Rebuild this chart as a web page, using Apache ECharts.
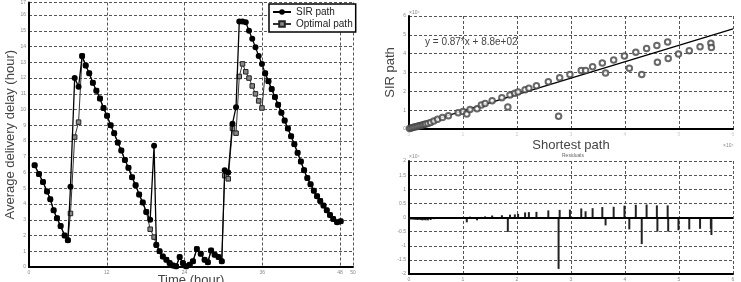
<!DOCTYPE html>
<html><head><meta charset="utf-8">
<script src="https://cdn.jsdelivr.net/npm/echarts/dist/echarts.min.js"></script>
<style>html,body{margin:0;padding:0;background:#fff}#c{width:741px;height:282px}</style>
</head><body><div id="c"></div>
<script>
// ---- Left chart: average delivery delay over time ----
const times = [0.87,1.54,2.16,2.78,3.29,3.80,4.32,4.88,5.5,6.0,
  6.4,7.05,7.65,8.2,8.75,9.3,9.85,10.4,10.95,11.5,
  12.05,12.6,13.15,13.7,14.25,14.8,15.35,15.9,16.45,17.0,
  17.55,18.1,18.7,19.3,19.65,20.15,20.65,21.2,21.7,22.2,
  22.7,23.25,23.75,24.25,24.8,25.3,25.9,26.5,27.1,27.6,
  28.1,28.65,29.25,29.75,30.2,30.75,31.4,31.95,32.45,32.95,
  33.45,33.95,34.45,34.95,35.45,35.95,36.45,36.95,37.45,37.95,
  38.45,38.95,39.45,39.95,40.45,40.95,41.45,41.95,42.45,42.95,
  43.45,43.95,44.45,44.95,45.45,45.95,46.45,46.95,47.55,48.1];
const sirDelay = [6.46,5.9,5.4,4.8,4.3,3.6,3.1,2.6,2.0,1.7,
  5.1,12.0,11.45,13.4,12.8,12.3,11.7,11.2,10.7,10.1,
  9.6,9.0,8.5,7.9,7.4,6.8,6.3,5.7,5.2,4.6,
  4.1,3.5,3.0,7.7,1.4,1.0,0.67,0.46,0.25,0.1,
  0.04,0.63,0.25,0.04,0.15,0.36,1.14,0.84,0.46,0.3,
  1.05,0.78,0.63,0.36,6.15,6.0,9.1,10.15,15.6,15.6,
  15.55,15.0,14.5,13.95,13.4,12.9,12.3,11.8,11.3,10.8,
  10.3,9.8,9.3,8.8,8.3,7.8,7.25,6.7,6.15,5.65,
  5.25,4.85,4.5,4.2,3.9,3.6,3.3,3.05,2.85,2.9];
const optDelay = [6.46,5.9,5.4,4.8,4.3,3.6,3.1,2.6,2.0,1.7,
  3.4,8.25,9.2,13.4,12.8,12.3,11.7,11.2,10.7,10.1,
  9.6,9.0,8.5,7.9,7.4,6.8,6.3,5.7,5.2,4.6,
  4.1,3.5,2.4,1.9,1.4,1.0,0.67,0.46,0.25,0.1,
  0.04,0.63,0.25,0.04,0.15,0.36,1.14,0.84,0.46,0.3,
  1.05,0.78,0.63,0.36,5.8,5.6,8.8,8.5,12.1,12.9,
  12.4,12.0,11.5,11.0,10.55,10.1,12.3,11.8,11.3,10.8,
  10.3,9.8,9.3,8.8,8.3,7.8,7.25,6.7,6.15,5.65,
  5.25,4.85,4.5,4.2,3.9,3.6,3.3,3.05,2.85,2.9];
const leftXTicks = [0, 12, 24, 36, 48, 50];

// ---- Right charts: SIR path vs shortest path (x10^4) ----
const shortestPath = [0.01,0.04,0.07,0.10,0.13,0.16,0.19,0.22,0.25,0.28,0.31,0.35,0.40,0.46,0.53,0.62,0.73,0.91,1.0,1.07,1.13,1.26,1.34,1.41,1.54,1.72,1.83,1.87,1.96,2.02,2.15,2.22,2.36,2.58,2.77,2.79,2.98,3.19,3.27,3.40,3.58,3.64,3.79,3.99,4.08,4.20,4.31,4.40,4.59,4.60,4.79,4.80,4.99,5.19,5.39,5.59,5.60];
const sirPath = [0.03,0.05,0.08,0.10,0.12,0.14,0.17,0.19,0.21,0.24,0.26,0.29,0.35,0.43,0.52,0.61,0.71,0.86,0.93,0.80,1.04,1.08,1.27,1.35,1.50,1.66,1.17,1.81,1.90,1.96,2.08,2.16,2.30,2.51,0.68,2.72,2.90,3.11,3.10,3.30,3.50,2.97,3.67,3.88,3.22,4.07,2.90,4.27,4.43,3.55,4.62,3.75,3.98,4.15,4.37,4.55,4.33];
const residuals = [-0.07,-0.07,-0.07,-0.08,-0.08,-0.09,-0.08,-0.09,-0.1,-0.09,-0.1,-0.1,-0.09,-0.06,-0.03,-0.02,-0.01,-0.02,0.02,-0.17,0.03,-0.1,0.02,0.04,0.07,0.08,-0.51,0.1,0.11,0.13,0.18,0.19,0.2,0.25,-1.82,0.27,0.28,0.32,0.22,0.33,0.37,-0.28,0.38,0.42,-0.42,0.45,-0.94,0.46,0.43,-0.5,0.43,-0.5,-0.45,-0.42,-0.4,-0.4,-0.62];
const fitX = [0, 6];
const fitY = [0.088, 5.31];

const FONT = 'Liberation Sans, Arial, Helvetica, sans-serif';
const split = {show:true, lineStyle:{color:'#555', type:[3,2], width:1}};
const axLine = {show:true, onZero:false, lineStyle:{color:'#000', width:2}};
const tinyLabel = {fontSize:5, color:'#888', fontFamily:FONT, margin:3};
const nameStyle = {fontSize:13, color:'#444', fontFamily:FONT};

const chart = echarts.init(document.getElementById('c'), null, {renderer:'canvas'});
chart.setOption({
  animation:false,
  backgroundColor:'#fff',
  textStyle:{fontFamily:FONT},
  grid:[
    {left:29, top:1, width:324, height:266},
    {left:409, top:16, width:324, height:113},
    {left:409, top:161, width:324, height:113}
  ],
  xAxis:[
    {gridIndex:0, type:'value', min:leftXTicks[0], max:leftXTicks[leftXTicks.length-1], interval:leftXTicks[1]-leftXTicks[0],
     axisLine:axLine, axisTick:{show:false}, axisLabel:tinyLabel, splitLine:split},
    {gridIndex:1, type:'value', min:0, max:6, interval:1,
     axisLine:axLine, axisTick:{show:false}, axisLabel:Object.assign({}, tinyLabel, {color:'#ccc'}), splitLine:split,
     name:'Shortest path', nameLocation:'middle', nameGap:10, nameTextStyle:nameStyle},
    {gridIndex:2, type:'value', min:0, max:6, interval:1,
     axisLine:axLine, axisTick:{show:false}, axisLabel:tinyLabel, splitLine:split}
  ],
  yAxis:[
    {gridIndex:0, type:'value', min:0, max:16.8, interval:1,
     axisLine:axLine, axisTick:{show:false}, axisLabel:Object.assign({}, tinyLabel, {formatter:v=>String(Math.round(v))}), splitLine:split,
     name:'Average delivery delay (hour)', nameLocation:'middle', nameGap:10, nameRotate:90, nameTextStyle:nameStyle},
    {gridIndex:1, type:'value', min:0, max:6, interval:1,
     axisLine:axLine, axisTick:{show:false}, axisLabel:tinyLabel, splitLine:split,
     name:'SIR path', nameLocation:'middle', nameGap:12, nameRotate:90, nameTextStyle:nameStyle},
    {gridIndex:2, type:'value', min:-2, max:2, interval:0.5,
     axisLine:axLine, axisTick:{show:false}, axisLabel:tinyLabel, splitLine:split}
  ],
  legend:{
    data:['SIR path','Optimal path'], orient:'vertical', left:269, top:4,
    itemWidth:18, itemHeight:7, itemGap:2, padding:[3,3,3,3],
    borderColor:'#000', borderWidth:1.5, backgroundColor:'#fff',
    textStyle:{fontSize:10, color:'#222', fontFamily:FONT}
  },
  graphic:[
    {type:'text', x:191, y:274, style:{text:'Time (hour)', fontSize:13, fill:'#444', fontFamily:FONT, align:'center', verticalAlign:'top'}},
    {type:'text', left:425, top:37, style:{text:'y = 0.87*x + 8.8e+02', fontSize:10, fill:'#444', fontFamily:FONT}},
    {type:'text', left:409, top:10, style:{text:'×10⁴', fontSize:5, fill:'#888', fontFamily:FONT}},
    {type:'text', left:723, top:143, style:{text:'×10⁴', fontSize:5, fill:'#888', fontFamily:FONT}},
    {type:'text', left:409, top:154, style:{text:'×10⁴', fontSize:5, fill:'#888', fontFamily:FONT}},
    {type:'text', left:562, top:153, style:{text:'Residuals', fontSize:5, fill:'#666', fontFamily:FONT}}
  ],
  series:[
    {name:'Optimal path', type:'line', xAxisIndex:0, yAxisIndex:0,
     data:times.map((t,i)=>[t, optDelay[i]]),
     symbol:'rect', symbolSize:4.5, lineStyle:{color:'#333', width:1},
     itemStyle:{color:'#888', borderColor:'#222', borderWidth:1}, z:2},
    {name:'SIR path', type:'line', xAxisIndex:0, yAxisIndex:0,
     data:times.map((t,i)=>[t, sirDelay[i]]),
     symbol:'circle', symbolSize:6, lineStyle:{color:'#000', width:1.3},
     itemStyle:{color:'#000'}, z:3},
    {type:'line', xAxisIndex:1, yAxisIndex:1, data:fitX.map((x,i)=>[x, fitY[i]]),
     symbol:'none', lineStyle:{color:'#000', width:1.3}, z:3},
    {type:'scatter', xAxisIndex:1, yAxisIndex:1,
     data:shortestPath.map((x,i)=>[x, sirPath[i]]),
     symbol:'emptyCircle', symbolSize:5.5, itemStyle:{color:'#444', borderWidth:1}, z:4},
    {type:'bar', xAxisIndex:2, yAxisIndex:2,
     data:shortestPath.map((x,i)=>[x, residuals[i]]),
     barWidth:2, itemStyle:{color:'#222'},
     markLine:{silent:true, symbol:'none', label:{show:false},
       lineStyle:{color:'#000', width:2, type:'solid'}, data:[{yAxis:0}]}}
  ]
});
</script></body></html>
